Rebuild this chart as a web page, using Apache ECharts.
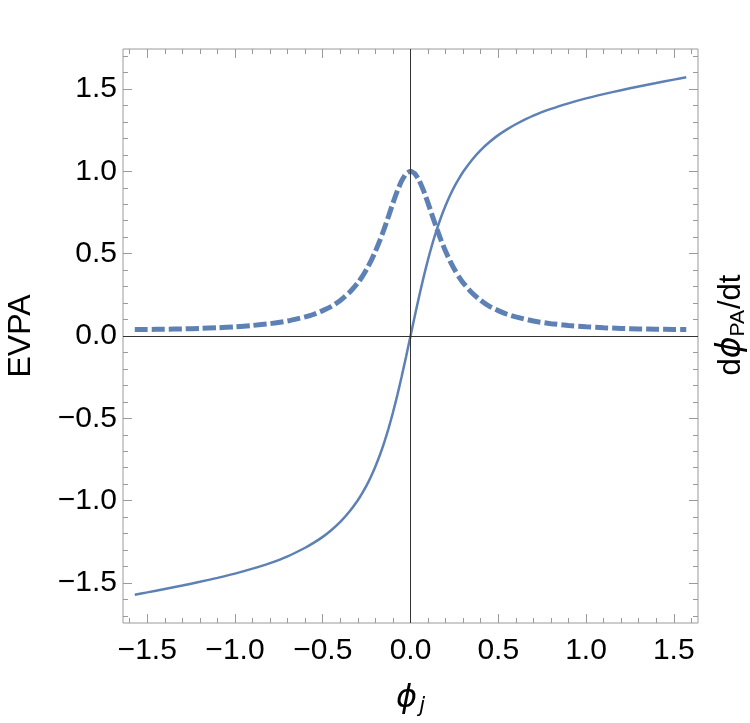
<!DOCTYPE html>
<html>
<head>
<meta charset="utf-8">
<script src="https://cdn.jsdelivr.net/npm/echarts@6/dist/echarts.min.js"></script>
<style>
  html, body { margin: 0; padding: 0; background: #fff; }
  #chart { width: 750px; height: 723px; }
</style>
</head>
<body>
<div id="chart"></div>
<script>
  // phi_j 取值点
  var phiJ = [-1.571, -1.5, -1.4, -1.3, -1.2, -1.1, -1.0, -0.9, -0.8, -0.7, -0.6, -0.55, -0.5, -0.45, -0.4, -0.35, -0.3,
    -0.275, -0.25, -0.225, -0.2, -0.175, -0.15, -0.125, -0.1, -0.075, -0.05, -0.025, 0,
    0.025, 0.05, 0.075, 0.1, 0.125, 0.15, 0.175, 0.2, 0.225, 0.25, 0.275,
    0.3, 0.35, 0.4, 0.45, 0.5, 0.55, 0.6, 0.7, 0.8, 0.9, 1.0, 1.1, 1.2, 1.3, 1.4, 1.5, 1.571];
  // EVPA (实线)
  var evpa = [-1.571, -1.557, -1.536, -1.515, -1.493, -1.469, -1.443, -1.413, -1.379, -1.338, -1.286, -1.255, -1.220, -1.178, -1.129, -1.069, -0.997,
    -0.954, -0.907, -0.853, -0.792, -0.724, -0.647, -0.561, -0.465, -0.359, -0.245, -0.124, 0,
    0.124, 0.245, 0.359, 0.465, 0.561, 0.647, 0.724, 0.792, 0.853, 0.907, 0.954,
    0.997, 1.069, 1.129, 1.178, 1.220, 1.255, 1.286, 1.338, 1.379, 1.413, 1.443, 1.469, 1.493, 1.515, 1.536, 1.557, 1.571];
  // dphi_PA/dt (虚线)
  var rate = [0.040, 0.040, 0.041, 0.043, 0.046, 0.050, 0.056, 0.064, 0.075, 0.091, 0.116, 0.132, 0.154, 0.180, 0.216, 0.262, 0.323,
    0.361, 0.405, 0.456, 0.514, 0.579, 0.651, 0.728, 0.807, 0.881, 0.943, 0.985, 1.0,
    0.985, 0.943, 0.881, 0.807, 0.728, 0.651, 0.579, 0.514, 0.456, 0.405, 0.361,
    0.323, 0.262, 0.216, 0.180, 0.154, 0.132, 0.116, 0.091, 0.075, 0.064, 0.056, 0.050, 0.046, 0.043, 0.041, 0.040, 0.040];

  var xMajor = [-1.5, -1.0, -0.5, 0, 0.5, 1.0, 1.5];
  var yMajor = [-1.5, -1.0, -0.5, 0, 0.5, 1.0, 1.5];
  var xRange = [-1.638, 1.638];
  var yRange = [-1.743, 1.743];

  function minorTicks(lo, hi, majors) {
    var out = [];
    for (var i = Math.ceil(lo * 10); i <= Math.floor(hi * 10); i++) {
      var v = Math.round(i) / 10;
      if (majors.indexOf(v) < 0) out.push(v);
    }
    return out;
  }
  var xMinor = minorTicks(xRange[0], xRange[1], xMajor);
  var yMinor = minorTicks(yRange[0], yRange[1], yMajor);

  function fmt(v) {
    return (v < 0 ? '\u2212' : '') + Math.abs(v).toFixed(1);
  }

  var blue = '#5E81B5';
  var frame = '#9a9a9a';
  var font = 'Liberation Sans';

  function makeAxis(dim, pos, ticks, len, withLabel) {
    var range = dim === 'x' ? xRange : yRange;
    return {
      type: 'value',
      position: pos,
      min: range[0],
      max: range[1],
      axisLine: { show: false, onZero: false },
      splitLine: { show: false },
      axisTick: {
        show: true,
        inside: true,
        length: len,
        customValues: ticks,
        lineStyle: { color: frame, width: 1 }
      },
      axisLabel: withLabel ? {
        show: true,
        customValues: ticks,
        formatter: fmt,
        fontSize: 30,
        fontFamily: font,
        color: '#000',
        margin: dim === 'x' ? 13 : 6
      } : { show: false }
    };
  }

  var xAxes = [
    makeAxis('x', 'bottom', xMajor, 9, true),
    makeAxis('x', 'bottom', xMinor, 5, false),
    makeAxis('x', 'top', xMajor, 9, false),
    makeAxis('x', 'top', xMinor, 5, false)
  ];
  var yAxes = [
    makeAxis('y', 'left', yMajor, 9, true),
    makeAxis('y', 'left', yMinor, 5, false),
    makeAxis('y', 'right', yMajor, 9, false),
    makeAxis('y', 'right', yMinor, 5, false)
  ];

  xAxes[0].name = '{p|\u03D5}{s|j}';
  xAxes[0].nameLocation = 'middle';
  xAxes[0].nameGap = 58;
  xAxes[0].nameTextStyle = {
    rich: {
      p: { fontSize: 32, fontStyle: 'italic', fontFamily: 'DejaVu Sans', color: '#000', lineHeight: 36 },
      s: { fontSize: 21, fontStyle: 'italic', fontFamily: 'DejaVu Sans', color: '#000', verticalAlign: 'bottom', padding: [8, 0, 0, 2] }
    }
  };

  yAxes[0].name = 'EVPA';
  yAxes[0].nameLocation = 'middle';
  yAxes[0].nameGap = 86;
  yAxes[0].nameTextStyle = { fontSize: 32, fontFamily: font, color: '#000' };

  yAxes[2].name = '{a|d}{p|\u03D5}{s|PA}{a|/dt}';
  yAxes[2].nameLocation = 'middle';
  yAxes[2].nameGap = 15;
  yAxes[2].nameTextStyle = {
    padding: [0, 0, 0, 22],
    rich: {
      a: { fontSize: 31, fontFamily: font, color: '#000', lineHeight: 36 },
      p: { fontSize: 33, fontStyle: 'italic', fontFamily: 'DejaVu Sans', color: '#000', lineHeight: 36 },
      s: { fontSize: 21, fontFamily: font, color: '#000', verticalAlign: 'bottom', padding: [6, 1, 0, 0] }
    }
  };

  function pairs(xs, ys) {
    var out = [];
    for (var i = 0; i < xs.length; i++) out.push([xs[i], ys[i]]);
    return out;
  }

  var chart = echarts.init(document.getElementById('chart'));
  var option = {
    animation: false,
    backgroundColor: '#fff',
    grid: {
      left: 123,
      right: 52,
      top: 49,
      bottom: 100,
      outerBoundsMode: 'none',
      containLabel: false,
      show: true,
      borderColor: frame,
      borderWidth: 1,
      backgroundColor: 'transparent'
    },
    xAxis: xAxes,
    yAxis: yAxes,
    series: [
      {
        name: 'EVPA',
        type: 'line',
        data: pairs(phiJ, evpa),
        showSymbol: false,
        smooth: 0.2,
        lineStyle: { color: blue, width: 2.5 },
        markLine: {
          silent: true,
          symbol: 'none',
          label: { show: false },
          lineStyle: { color: '#333', width: 1, type: 'solid' },
          data: [{ yAxis: 0 }, { xAxis: 0 }]
        }
      },
      {
        name: 'rate',
        type: 'line',
        data: pairs(phiJ, rate),
        showSymbol: false,
        smooth: 0.2,
        lineStyle: { color: blue, width: 5, type: [13, 4], cap: 'butt' }
      }
    ]
  };
  chart.setOption(option);
</script>
</body>
</html>
